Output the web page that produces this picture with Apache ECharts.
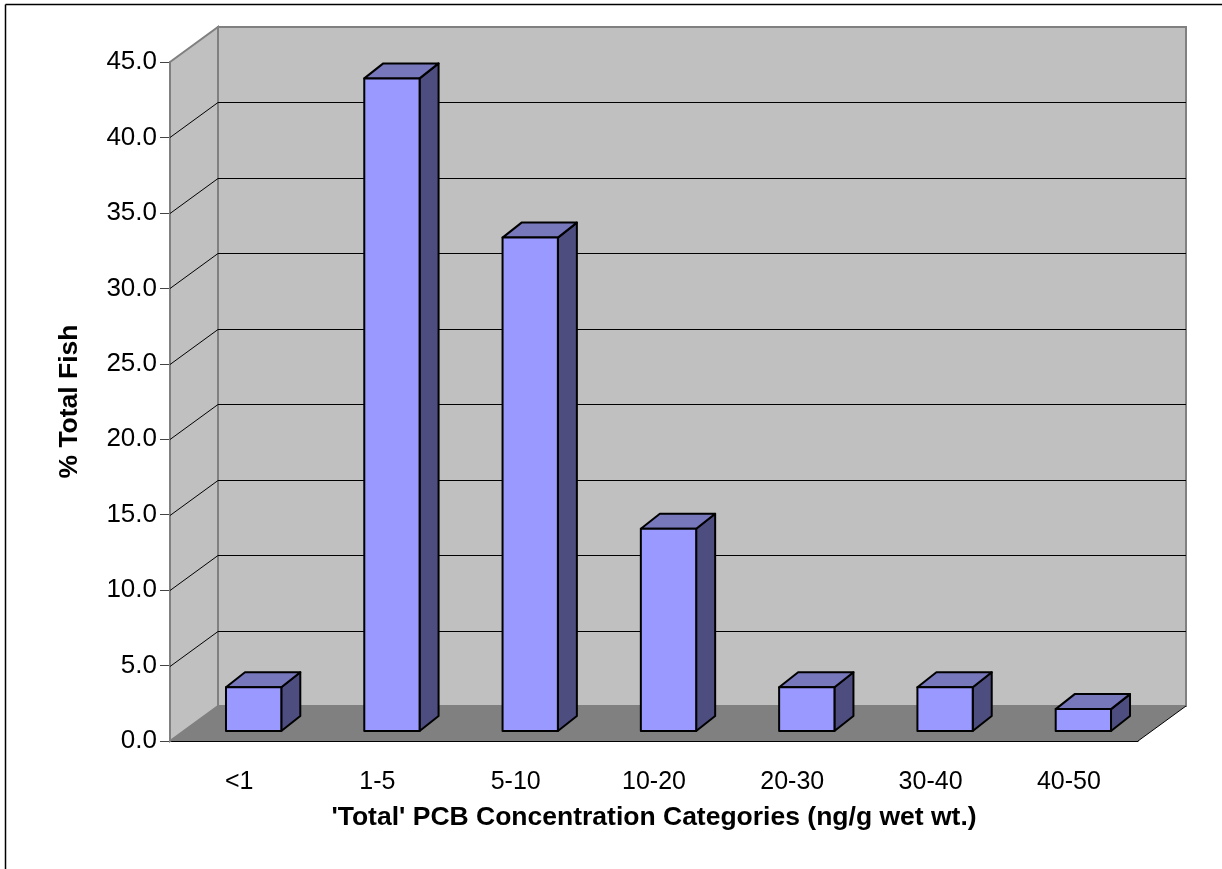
<!DOCTYPE html>
<html>
<head>
<meta charset="utf-8">
<title>Total PCB</title>
<script src="https://cdn.jsdelivr.net/npm/echarts@6/dist/echarts.min.js"></script>
<style>
html, body { margin: 0; padding: 0; background: #fff; }
#chart { width: 1222px; height: 869px; }
</style>
</head>
<body>
<div id="chart"></div>
<script>
var categories = ["<1", "1-5", "5-10", "10-20", "20-30", "30-40", "40-50"];
var percentFish = [2.9, 43.25, 32.7, 13.4, 2.9, 2.9, 1.45];
var gridValues = [5, 10, 15, 20, 25, 30, 35, 40];

// fake 3d: how far the back wall and the bars are pushed, in px
var wallDx = 48, wallDy = -35;
var barDx = 19, barDy = -15;
var barShiftX = 14.5, barShiftY = -10;
var barWidthRate = 0.4;
var fontName = "Liberation Sans";

function renderWalls(params, api) {
    var c = params.coordSys;
    var x0 = c.x, x1 = c.x + c.width, yTop = c.y, yBot = c.y + c.height;
    var gray = { stroke: "#808080", lineWidth: 2 };
    return {
        type: "group",
        children: [
            { type: "polygon", shape: { points: [[x0, yTop], [x0 + wallDx, yTop + wallDy], [x0 + wallDx, yBot + wallDy], [x0, yBot]] },
              style: { fill: "#c0c0c0", stroke: "#808080", lineWidth: 2 } },
            { type: "polygon", shape: { points: [[x0 + wallDx, yTop + wallDy], [x1 + wallDx, yTop + wallDy], [x1 + wallDx, yBot + wallDy], [x0 + wallDx, yBot + wallDy]] },
              style: { fill: "#c0c0c0", stroke: "#808080", lineWidth: 2 } },
            { type: "polygon", shape: { points: [[x0, yBot], [x0 + wallDx, yBot + wallDy], [x1 + wallDx, yBot + wallDy], [x1, yBot]] },
              style: { fill: "#808080" } },
            { type: "line", shape: { x1: x1, y1: yBot, x2: x1 + wallDx, y2: yBot + wallDy }, style: { stroke: "#000", lineWidth: 1 } },
            { type: "line", shape: { x1: x0, y1: yTop, x2: x0, y2: yBot }, style: gray }
        ]
    };
}

function renderGridLine(params, api) {
    var c = params.coordSys;
    var p = api.coord([0, api.value(0)]);
    var y = Math.round(p[1]) + 0.5;
    var x0 = c.x, x1 = c.x + c.width;
    return {
        type: "polyline",
        shape: { points: [[x0, y], [x0 + wallDx, y + wallDy], [x1 + wallDx, y + wallDy]] },
        style: { fill: null, stroke: "#000", lineWidth: 1 }
    };
}

function renderBar(params, api) {
    var top = api.coord([api.value(0), api.value(1)]);
    var bottom = api.coord([api.value(0), 0]);
    var w = api.size([1, 0])[0] * barWidthRate;
    var l = top[0] + barShiftX - w / 2;
    var r = l + w;
    var t = top[1] + barShiftY;
    var b = bottom[1] + barShiftY;
    var line = { stroke: "#000", lineWidth: 2, lineJoin: "round" };
    return {
        type: "group",
        children: [
            { type: "polygon", shape: { points: [[r, t], [r + barDx, t + barDy], [r + barDx, b + barDy], [r, b]] },
              style: Object.assign({ fill: "#4d4d80" }, line) },
            { type: "polygon", shape: { points: [[l, t], [l + barDx, t + barDy], [r + barDx, t + barDy], [r, t]] },
              style: Object.assign({ fill: "#7777bb" }, line) },
            { type: "rect", shape: { x: l, y: t, width: w, height: b - t },
              style: Object.assign({ fill: "#9999ff" }, line) }
        ]
    };
}

var barData = [];
for (var i = 0; i < categories.length; i++) {
    barData.push([i, percentFish[i]]);
}

var myChart = echarts.init(document.getElementById("chart"), null, { renderer: "canvas" });
var option = {
    animation: false,
    backgroundColor: "#fff",
    textStyle: { fontFamily: fontName },
    grid: { left: 170, top: 62, width: 968, height: 679 },
    xAxis: {
        type: "category",
        data: categories,
        name: "'Total' PCB Concentration Categories (ng/g wet wt.)",
        nameLocation: "middle",
        nameGap: 63,
        nameTextStyle: { fontFamily: fontName, fontSize: 26.5, fontWeight: "bold", color: "#000" },
        axisLine: { lineStyle: { color: "#000", width: 1 } },
        axisTick: { length: 11, alignWithLabel: false, lineStyle: { color: "#444" } },
        axisLabel: { fontFamily: fontName, fontSize: 25, color: "#000", margin: 29, interval: 0 },
        splitLine: { show: false }
    },
    yAxis: {
        type: "value",
        min: 0,
        max: 45,
        interval: 5,
        name: "% Total Fish",
        nameLocation: "middle",
        nameGap: 87,
        nameRotate: 90,
        nameTextStyle: { fontFamily: fontName, fontSize: 26.5, fontWeight: "bold", color: "#000" },
        axisLine: { show: true, lineStyle: { color: "#808080", width: 2 } },
        axisTick: { show: true, length: 10, lineStyle: { color: "#444" } },
        axisLabel: { fontFamily: fontName, fontSize: 26, color: "#000", margin: 13,
            formatter: function (v) { return v.toFixed(1); } },
        splitLine: { show: false }
    },
    graphic: [
        { type: "line", silent: true, shape: { x1: 5.5, y1: 4.5, x2: 1222, y2: 4.5 }, style: { stroke: "#000", lineWidth: 1.5 } },
        { type: "line", silent: true, shape: { x1: 5.5, y1: 4.5, x2: 5.5, y2: 869 }, style: { stroke: "#000", lineWidth: 1.5 } }
    ],
    series: [
        { name: "walls", type: "custom", silent: true, z: 1, renderItem: renderWalls, data: [[0]], clip: false },
        { name: "gridlines", type: "custom", silent: true, z: 2, renderItem: renderGridLine, data: gridValues.map(function (v) { return [v]; }), clip: false },
        { name: "% Total Fish", type: "custom", silent: true, z: 3, renderItem: renderBar, data: barData, encode: { x: 0, y: 1 }, clip: false }
    ]
};
myChart.setOption(option, true);
</script>
</body>
</html>
